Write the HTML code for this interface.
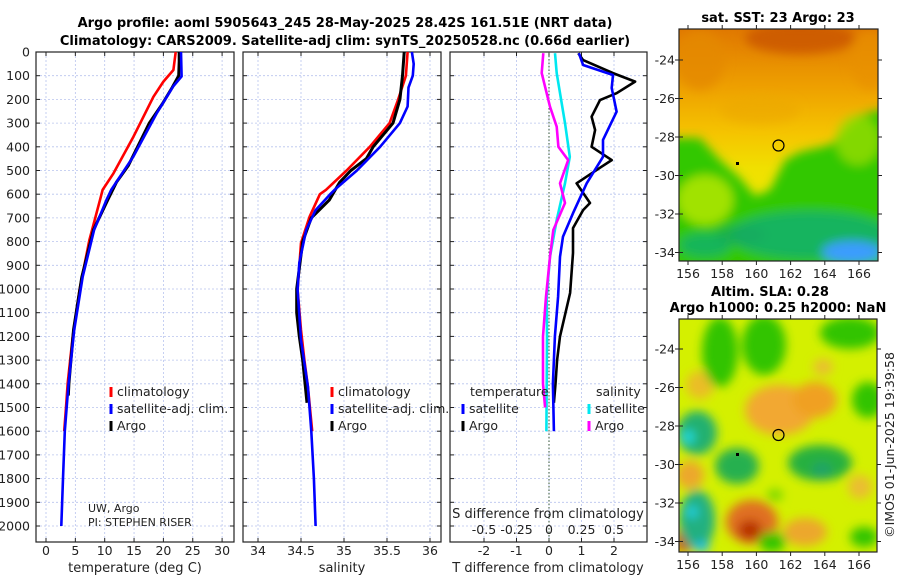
<!DOCTYPE html>
<html><head><meta charset="utf-8"><style>
html,body{margin:0;padding:0;background:#fff;}
svg{display:block;font-family:"DejaVu Sans","Liberation Sans",sans-serif;}
</style></head><body>
<svg id="root" width="900" height="580" viewBox="0 0 900 580" xmlns="http://www.w3.org/2000/svg">
<defs>
<filter id="blur" x="-20%" y="-20%" width="140%" height="140%"><feGaussianBlur stdDeviation="5"/></filter>
<clipPath id="clipM1"><rect x="679" y="29" width="199" height="232"/></clipPath>
<clipPath id="clipM2"><rect x="679" y="319" width="198" height="233"/></clipPath>
<linearGradient id="sstg" x1="0" y1="0" x2="0" y2="1">
<stop offset="0" stop-color="#e07800"/><stop offset="0.25" stop-color="#eea000"/><stop offset="0.45" stop-color="#f5c400"/><stop offset="0.6" stop-color="#f0e000"/><stop offset="1" stop-color="#e8f000"/>
</linearGradient>
</defs>
<g font-weight="bold" font-size="13" text-anchor="middle" fill="#000">
<text x="345" y="27">Argo profile: aoml 5905643_245 28-May-2025 28.42S 161.51E (NRT data)</text>
<text x="345" y="45">Climatology: CARS2009. Satellite-adj clim: synTS_20250528.nc (0.66d earlier)</text>
</g>
<g id="panels"></g>
<g id="maps"></g>
</svg>
<script>
// ---------- data ----------
const depthTicks = [0,100,200,300,400,500,600,700,800,900,1000,1100,1200,1300,1400,1500,1600,1700,1800,1900,2000];
const tempTicks = [0,5,10,15,20,25,30];
const salTicks = [34,34.5,35,35.5,36];
const salTickLabels = ["34","34.5","35","35.5","36"];
const tdiffTicks = [-2,-1,0,1,2];
const sdiffTicks = [-0.5,-0.25,0,0.25,0.5];
const sdiffTickLabels = ["-0.5","-0.25","0","0.25","0.5"];

const tClimDepth = [0,76,125,189,357,512,582,624,793,1004,1201,1397,1500,1600];
const tClim = [22.1,21.7,20.0,18.3,14.9,11.5,9.65,9.2,7.4,5.7,4.55,3.7,3.4,3.1];
const tSatDepth = [0,103,144,257,440,582,624,751,948,1173,1412,1600,1800,2000];
const tSat = [23.0,23.1,21.7,18.9,14.9,11.1,10.3,8.2,6.25,4.8,3.8,3.2,2.9,2.6];
const tArgoDepth = [0,40,100,150,220,300,400,480,550,620,750,950,1170,1400,1450];
const tArgo = [22.7,22.7,22.6,21.5,19.8,17.6,15.6,14.0,12.0,10.6,8.1,6.1,4.7,3.9,3.8];

const sClimDepth = [0,100,200,300,400,500,582,600,695,806,1004,1173,1300,1412,1600];
const sClim = [35.74,35.72,35.63,35.53,35.30,35.03,34.79,34.72,34.60,34.50,34.46,34.50,34.54,34.58,34.63];
const sSatDepth = [0,50,100,150,230,300,400,500,582,600,667,751,890,1004,1215,1412,1600,1800,2000];
const sSat = [35.79,35.81,35.80,35.75,35.74,35.65,35.42,35.15,34.89,34.84,34.67,34.56,34.48,34.46,34.50,34.58,34.62,34.65,34.67];
const sArgoDepth = [0,100,200,300,400,450,500,550,624,700,800,1000,1100,1200,1300,1480];
const sArgo = [35.70,35.68,35.65,35.57,35.34,35.26,35.08,34.95,34.83,34.62,34.52,34.45,34.45,34.48,34.52,34.57];

const dtDepth = [5,34,89,125,174,203,273,329,400,456,484,554,637,667,743,848,1017,1200,1300,1400,1480];
const dtArgo = [0.9,1.05,1.97,2.65,2.08,1.57,1.31,1.42,1.31,1.93,1.62,0.85,1.26,1.05,0.74,0.74,0.65,0.34,0.25,0.2,0.15];
const dtSatDepth = [5,55,97,152,252,371,442,554,680,779,864,1032,1200,1400,1600];
const dtSat = [0.92,1.05,1.97,1.93,2.08,1.66,1.66,1.16,0.74,0.43,0.34,0.28,0.18,0.12,0.15];
const dsSatDepth = [5,89,300,442,554,709,864,1032,1200,1400,1600];
const dsSat = [0.046,0.059,0.123,0.16,0.123,0.059,0.008,-0.018,-0.015,-0.018,-0.02];
const dsArgoDepth = [5,89,231,315,400,456,554,637,751,864,1032,1200,1400,1500];
const dsArgo = [-0.044,-0.056,0.008,0.059,0.072,0.148,0.085,0.123,0.033,0.008,-0.023,-0.046,-0.046,-0.03];

// ---------- scales ----------
const TOP=52, BOT=542;
function yD(d){return 52 + d*0.237;}
function xT(t){return 46 + t*5.87;}
function xS(s){return 258 + (s-34)*86;}
function xDT(t){return 549 + t*32.5;}
function xDS(s){return 549 + s*130;}
const NS="http://www.w3.org/2000/svg";
const panels=document.getElementById('panels');
function el(tag,attrs,parent,txt){const e=document.createElementNS(NS,tag);for(const k in attrs)e.setAttribute(k,attrs[k]);if(txt!==undefined)e.textContent=txt;(parent||panels).appendChild(e);return e;}

function panel(name,x0,x1,xticks,xfn,labels,showY){
  const g=el('g',{});
  
  
  // grid
  xticks.forEach(v=>{const x=xfn(v);const l=el('line',{x1:x,x2:x,y1:TOP,y2:BOT,stroke:'#b8c4ee','stroke-width':0.8,'stroke-dasharray':'2,2'},g);
    });
  depthTicks.forEach(d=>{const y=yD(d);const l=el('line',{x1:x0,x2:x1,y1:y,y2:y,stroke:'#b8c4ee','stroke-width':0.8,'stroke-dasharray':'2,2'},g);
    });
  // ticks
  depthTicks.forEach(d=>{const y=yD(d);
    el('line',{x1:x0,x2:x0+4,y1:y,y2:y,stroke:'#222'},g);
    el('line',{x1:x1,x2:x1-4,y1:y,y2:y,stroke:'#222'},g);
    if(showY){const t=el('text',{x:x0-6,y:y+4.5,'font-size':12.5,'text-anchor':'end',fill:'#222'},g,String(d));
      }
  });
  xticks.forEach((v,i)=>{const x=xfn(v);
    el('line',{x1:x,x2:x,y1:BOT,y2:BOT-4,stroke:'#222'},g);
    el('line',{x1:x,x2:x,y1:TOP,y2:TOP+4,stroke:'#222'},g);
    if(labels){const t=el('text',{x:x,y:555,'font-size':12.5,'text-anchor':'middle',fill:'#222'},g,labels[i]);
      }
  });
  const b=el('rect',{x:x0,y:TOP,width:x1-x0,height:BOT-TOP,fill:'none',stroke:'#222','stroke-width':1.2},g);
  
  return g;
}
function line(g,name,depths,vals,xfn,color,w){
  const pts=depths.map((d,i)=>xfn(vals[i]).toFixed(1)+','+yD(d).toFixed(1)).join(' ');
  const p=el('polyline',{points:pts,fill:'none',stroke:color,'stroke-width':w||2.6,'stroke-linejoin':'round'},g);
  
  
}
function legend(g,x,y,color,text){
  el('line',{x1:x,x2:x,y1:y-9,y2:y+1,stroke:color,'stroke-width':3},g);
  const t=el('text',{x:x+6,y:y,'font-size':12.5,fill:'#222'},g,text);
  
  
}

// Panel 1 temperature
const g1=panel('temperature-panel',36,234,tempTicks,xT,tempTicks.map(String),true);
line(g1,'temp-climatology-line',tClimDepth,tClim,xT,'#ff0000');
line(g1,'temp-argo-line',tArgoDepth,tArgo,xT,'#000000',3);
line(g1,'temp-satellite-line',tSatDepth,tSat,xT,'#0000ff');
legend(g1,111,396,'#ff0000','climatology');
legend(g1,111,413,'#0000ff','satellite-adj. clim.');
legend(g1,111,430,'#000000','Argo');
el('text',{x:88,y:512,'font-size':11,fill:'#222'},g1,'UW, Argo');
el('text',{x:88,y:526,'font-size':11,fill:'#222'},g1,'PI: STEPHEN RISER');
const xt1=el('text',{x:135,y:572,'font-size':13,'text-anchor':'middle',fill:'#222'},g1,'temperature (deg C)');


// Panel 2 salinity
const g2=panel('salinity-panel',243,441,salTicks,xS,salTickLabels,false);
line(g2,'sal-climatology-line',sClimDepth,sClim,xS,'#ff0000');
line(g2,'sal-argo-line',sArgoDepth,sArgo,xS,'#000000',3);
line(g2,'sal-satellite-line',sSatDepth,sSat,xS,'#0000ff');
legend(g2,332,396,'#ff0000','climatology');
legend(g2,332,413,'#0000ff','satellite-adj. clim.');
legend(g2,332,430,'#000000','Argo');
const xt2=el('text',{x:342,y:572,'font-size':13,'text-anchor':'middle',fill:'#222'},g2,'salinity');


// Panel 3 differences
const g3=panel('difference-panel',450,647,tdiffTicks,xDT,tdiffTicks.map(String),false);
const zl=el('line',{x1:549,x2:549,y1:TOP,y2:BOT,stroke:'#335533','stroke-width':1,'stroke-dasharray':'1.5,2'},g3);

line(g3,'sdiff-satellite-line',dsSatDepth,dsSat,xDS,'#00e8f0');
line(g3,'sdiff-argo-line',dsArgoDepth,dsArgo,xDS,'#ff00ff');
line(g3,'tdiff-argo-line',dtDepth,dtArgo,xDT,'#000000');
line(g3,'tdiff-satellite-line',dtSatDepth,dtSat,xDT,'#0000ff');
el('text',{x:470,y:396,'font-size':12.5,fill:'#222'},g3,'temperature');
el('text',{x:596,y:396,'font-size':12.5,fill:'#222'},g3,'salinity');
legend(g3,463,413,'#0000ff','satellite');
legend(g3,463,430,'#000000','Argo');
legend(g3,589,413,'#00e8f0','satellite');
legend(g3,589,430,'#ff00ff','Argo');
el('text',{x:548,y:518,'font-size':13,'text-anchor':'middle',fill:'#222'},g3,'S difference from climatology');
sdiffTicks.forEach((v,i)=>{const t=el('text',{x:xDS(v),y:534,'font-size':12.5,'text-anchor':'middle',fill:'#222'},g3,sdiffTickLabels[i]);
  });
const xt3=el('text',{x:548,y:572,'font-size':13,'text-anchor':'middle',fill:'#222'},g3,'T difference from climatology');


// ---------- maps ----------
const maps=document.getElementById('maps');
const latTicks=[-24,-26,-28,-30,-32,-34];
const lonTicks=[156,158,160,162,164,166];
function mapAxes(g,x0,y0,w,h,latY0,rotLabel){
  // lat -24 at latY0, 19.25px/deg ; lon 156 at 688, 17.1 px/deg
  latTicks.forEach(l=>{const y=latY0+(-24-l)*19.25;
    el('line',{x1:x0,x2:x0+4,y1:y,y2:y,stroke:'#222'},g);
    el('line',{x1:x0+w,x2:x0+w+4,y1:y,y2:y,stroke:'#222'},g);
    el('line',{x1:x0-4,x2:x0,y1:y,y2:y,stroke:'#222'},g);
    const t=el('text',{x:x0-4,y:y+4.5,'font-size':12.5,'text-anchor':'end',fill:'#222'},g,String(l));
    });
  lonTicks.forEach(l=>{const x=688+(l-156)*17.1;
    el('line',{x1:x,x2:x,y1:y0+h,y2:y0+h+4,stroke:'#222'},g);
    el('line',{x1:x,x2:x,y1:y0-4,y2:y0,stroke:'#222'},g);
    const t=el('text',{x:x,y:y0+h+17,'font-size':12.5,'text-anchor':'middle',fill:'#222'},g,String(l));
    });
  el('rect',{x:x0,y:y0,width:w,height:h,fill:'none',stroke:'#222','stroke-width':1.2},g);
}
function blob(g,cx,cy,rx,ry,c,o){el('ellipse',{cx:cx,cy:cy,rx:rx,ry:ry,fill:c,'fill-opacity':o||1},g);}

// Map 1 SST
const m1=el('g',{},maps);


const f1=el('g',{'clip-path':'url(#clipM1)'},m1);
el('rect',{x:679,y:29,width:199,height:232,fill:'url(#sstg)'},f1);
const b1=el('g',{filter:'url(#blur)'},f1);
blob(b1,800,38,55,16,'#cc5a00',0.9);
blob(b1,700,60,25,30,'#e58a00',0.8);
blob(b1,870,60,20,30,'#e89000',0.7);
blob(b1,760,110,40,14,'#eca800',0.6);
el('polygon',{points:'670,138 700,138 720,160 740,178 755,196 770,190 785,160 800,152 830,145 860,115 890,108 890,270 670,270',fill:'#30c800'},b1);
blob(b1,705,200,28,25,'#a8e400',0.95);
blob(b1,858,140,22,25,'#98dc00',0.8);
blob(b1,810,235,80,24,'#10b070',0.85);
blob(b1,705,245,26,12,'#10b070',0.8);
blob(b1,852,252,30,11,'#3a9cff',1);
blob(b1,740,235,25,10,'#18a860',0.7);
const c1=el('circle',{cx:778.5,cy:145.5,r:5.5,fill:'none',stroke:'#000','stroke-width':1.2},m1);

el('rect',{x:736,y:162,width:3,height:3,fill:'#000'},m1);
mapAxes(m1,679,29,199,232,60,false);
const tt1=el('text',{x:778,y:22,'font-size':13,'font-weight':'bold','text-anchor':'middle',fill:'#000'},m1,'sat. SST: 23 Argo: 23');


// Map 2 SLA
const m2=el('g',{},maps);


const f2=el('g',{'clip-path':'url(#clipM2)'},m2);
el('rect',{x:679,y:319,width:198,height:233,fill:'#d4f000'},f2);
const b2=el('g',{filter:'url(#blur)'},f2);
// orange highs
blob(b2,780,410,35,25,'#f2a830');
blob(b2,815,400,22,18,'#f0a020');
blob(b2,700,385,14,14,'#f0b030',0.8);
blob(b2,690,475,14,14,'#f0a030',0.9);
blob(b2,752,522,26,22,'#e07020');
blob(b2,750,530,12,10,'#b83000');
blob(b2,685,540,10,12,'#c84010');
blob(b2,805,532,22,14,'#f0a030',0.9);
blob(b2,860,487,12,12,'#f0b040',0.8);
blob(b2,823,367,10,8,'#f0b040',0.8);
// green lows
blob(b2,720,352,18,35,'#30c400');
blob(b2,764,345,22,30,'#30c400');
blob(b2,850,333,30,16,'#30c400');
blob(b2,868,400,16,18,'#30c400');
blob(b2,697,433,20,22,'#20b070');
blob(b2,688,437,7,7,'#20d8d8');
blob(b2,737,466,22,18,'#28b050');
blob(b2,820,463,32,18,'#28b040');
blob(b2,822,470,10,8,'#20a070',0.8);
blob(b2,697,520,18,30,'#20b080');
blob(b2,692,512,6,6,'#20d0e0');
blob(b2,702,547,8,5,'#20c0f0');
blob(b2,772,542,14,10,'#30c400');
blob(b2,864,537,14,10,'#30c400');
blob(b2,775,495,8,6,'#60d000',0.8);
const c2=el('circle',{cx:778.5,cy:435,r:5.5,fill:'none',stroke:'#000','stroke-width':1.2},m2);

el('rect',{x:736,y:453,width:3,height:3,fill:'#000'},m2);
mapAxes(m2,679,319,198,233,349,true);
const tt2=el('text',{x:770,y:296,'font-size':13,'font-weight':'bold','text-anchor':'middle',fill:'#000'},m2,'Altim. SLA: 0.28');

el('text',{x:778,y:312,'font-size':13,'font-weight':'bold','text-anchor':'middle',fill:'#000'},m2,'Argo h1000: 0.25 h2000: NaN');
const cr=el('text',{x:0,y:0,'font-size':12.5,'text-anchor':'middle',fill:'#222',transform:'translate(894,445) rotate(-90)'},m2,'©IMOS 01-Jun-2025 19:39:58');

</script>
</body></html>
